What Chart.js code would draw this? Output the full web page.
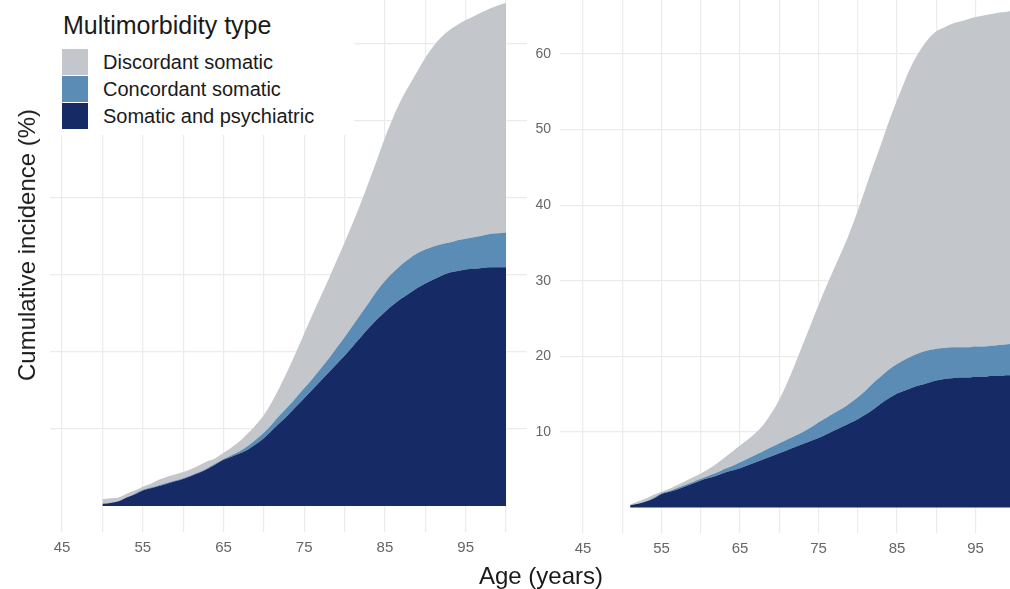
<!DOCTYPE html>
<html>
<head>
<meta charset="utf-8">
<script src="https://cdn.jsdelivr.net/npm/chart.js@4.4.1/dist/chart.umd.min.js"></script>
<style>
  html, body { margin: 0; padding: 0; background: #fff; overflow: hidden; }
  body { width: 1010px; height: 589px; position: relative; font-family: "Liberation Sans", Arial, sans-serif; }
  canvas { position: absolute; top: 0; }
  #left { left: 0; }
  #right { left: 500px; }
  #legend { position: absolute; left: 50px; top: 0; width: 304px; height: 135px; background: #fff; }
  #legend .ttl { position: absolute; left: 13px; top: 13px; font-size: 25px; line-height: 25px; color: #1a1a1a; white-space: nowrap; }
  #legend .sw { position: absolute; left: 12px; width: 26px; height: 26px; }
  #legend .lab { position: absolute; left: 53px; font-size: 20px; line-height: 26px; color: #1a1a1a; white-space: nowrap; }
  #ytitle { position: absolute; left: 27px; top: 245px; transform: translate(-50%, -50%) rotate(-90deg); font-size: 24px; color: #1a1a1a; white-space: nowrap; }
  #xtitle { position: absolute; left: 541px; top: 564px; transform: translateX(-50%); font-size: 24px; line-height: 24px; color: #1a1a1a; white-space: nowrap; }
</style>
</head>
<body>
<canvas id="left" width="527" height="589"></canvas>
<canvas id="right" width="540" height="589"></canvas>
<div id="legend"></div>
<div id="ytitle">Cumulative incidence (%)</div>
<div id="xtitle">Age (years)</div>
<script>
// series names and colours (legend order, top layer first)
var seriesNames = ["Discordant somatic", "Concordant somatic", "Somatic and psychiatric"];
var seriesColors = ["#c3c7cb", "#5b8cb5", "#162a66"];

var xTicks = [45, 50, 55, 60, 65, 70, 75, 80, 85, 90, 95, 100];
var xLabels = [45, 55, 65, 75, 85, 95];
var yTicks = [10, 20, 30, 40, 50, 60];

// left panel: stacked cumulative incidence (%) read at each age
var leftAges = [50,51,52,53,54,55,56,57,58,59,60,61,62,63,64,65,66,67,68,69,70,71,72,73,74,75,
  76,77,78,79,80,81,82,83,84,85,86,87,88,89,90,91,92,93,94,95,96,97,98,99,100];
var leftPsych = [0.3,0.4,0.6,1.1,1.5,2.0,2.3,2.6,2.9,3.2, 3.5,3.9,4.3,4.8,5.4,6.0,6.4,6.8,7.3,8.0,
  8.8,9.8,10.8,11.8,12.9,14.0,15.1,16.2,17.3,18.4, 19.5,20.7,21.9,23.1,24.2,25.2,26.1,26.9,27.6,28.3,
  28.9,29.4,29.9,30.3,30.5,30.7,30.8,30.9,31.0,31.0, 31.0];
var leftConcTop = [0.3,0.4,0.6,1.1,1.6,2.1,2.4,2.7,3.0,3.3, 3.6,4.0,4.4,4.9,5.5,6.1,6.6,7.1,7.8,8.6,
  9.5,10.6,11.8,12.9,14.1,15.3,16.5,17.8,19.1,20.5, 21.9,23.4,24.9,26.4,27.9,29.2,30.3,31.3,32.1,32.8,
  33.3,33.7,34.0,34.2,34.5,34.7,34.9,35.1,35.3,35.4, 35.5];
var leftTotal = [0.9,1.0,1.1,1.6,2.0,2.5,2.9,3.4,3.8,4.1, 4.4,4.8,5.3,5.8,6.2,6.9,7.6,8.4,9.4,10.5,
  11.8,13.5,15.5,17.7,20.0,22.4,24.8,27.1,29.4,31.8, 34.2,36.7,39.3,42.1,44.9,47.8,50.4,52.7,54.6,56.4,
  58.2,59.7,60.9,61.8,62.5,63.1,63.6,64.1,64.6,65.0, 65.3];

// right panel
var rightAges = [51,52,53,54,55,56,57,58,59,60,61,62,63,64,65,66,67,68,69,70,71,72,73,74,75,
  76,77,78,79,80,81,82,83,84,85,86,87,88,89,90,91,92,93,94,95,96,97,98,99,100];
var rightPsych = [0.3,0.5,0.8,1.2,1.8,2.1,2.4,2.8,3.2,3.6, 3.9,4.2,4.6,4.9,5.2,5.6,6.0,6.4,6.8,7.2,
  7.6,8.0,8.4,8.8,9.2,9.7,10.2,10.7,11.2,11.7, 12.3,13.0,13.8,14.5,15.1,15.5,15.9,16.2,16.5,16.8,
  17.0,17.1,17.2,17.2,17.3,17.3,17.4,17.4,17.5,17.5];
var rightConcTop = [0.3,0.5,0.8,1.3,1.9,2.2,2.6,3.0,3.4,3.8, 4.2,4.6,5.1,5.5,6.0,6.5,7.0,7.5,8.0,8.5,
  9.0,9.5,10.0,10.6,11.3,11.9,12.5,13.1,13.8,14.6, 15.5,16.5,17.4,18.3,19.0,19.6,20.1,20.5,20.8,21.0,
  21.1,21.2,21.2,21.2,21.3,21.3,21.4,21.5,21.6,21.7];
var rightTotal = [0.4,0.8,1.2,1.7,2.1,2.5,3.0,3.5,4.0,4.5, 5.1,5.8,6.6,7.4,8.2,9.0,9.9,11.0,12.5,14.3,
  16.5,19.0,21.6,24.2,26.8,29.3,31.7,34.0,36.5,39.3, 42.3,45.3,48.2,51.2,53.9,56.5,58.8,60.6,62.0,63.0,
  63.5,64.0,64.3,64.6,64.9,65.1,65.3,65.5,65.6,65.8];

function pts(ages, vals) {
  return ages.map(function (a, i) { return { x: a, y: vals[i] }; });
}

function layer(label, color, data, fill) {
  return {
    label: label, data: data, fill: fill,
    backgroundColor: color, borderColor: color, borderWidth: 0,
    pointRadius: 0, cubicInterpolationMode: 'monotone'
  };
}

function makePanel(id, ages, psych, concTop, total, cfg) {
  var ctx = document.getElementById(id).getContext('2d');
  return new Chart(ctx, {
    type: 'line',
    data: {
      datasets: [
        layer(seriesNames[2], seriesColors[2], pts(ages, psych), 'origin'),
        layer(seriesNames[1], seriesColors[1], pts(ages, concTop), '-1'),
        layer(seriesNames[0], seriesColors[0], pts(ages, total), '-1')
      ]
    },
    options: {
      responsive: false,
      animation: false,
      devicePixelRatio: 1,
      layout: { padding: 0 },
      plugins: { legend: { display: false }, tooltip: { enabled: false } },
      scales: {
        x: {
          type: 'linear', min: cfg.xmin, max: cfg.xmax,
          afterBuildTicks: function (ax) { ax.ticks = xTicks.map(function (v) { return { value: v }; }); },
          afterFit: function (s) { s.height = cfg.xh; s.paddingLeft = 0; s.paddingRight = 0; },
          ticks: {
            autoSkip: false, maxRotation: 0, padding: 7, color: '#666',
            font: { family: 'Liberation Sans', size: 15 },
            callback: function (v) { return xLabels.indexOf(v) >= 0 ? String(v) : ''; }
          },
          grid: { color: '#ebebeb', lineWidth: 1.2, drawTicks: false },
          border: { display: false }
        },
        y: {
          type: 'linear', min: cfg.ymin, max: cfg.ymax,
          afterBuildTicks: function (ax) { ax.ticks = yTicks.map(function (v) { return { value: v }; }); },
          afterFit: function (s) { s.width = cfg.yw; s.paddingTop = 0; s.paddingBottom = 0; },
          ticks: {
            display: cfg.yLabels, padding: 9, color: '#666',
            font: { family: 'Liberation Sans', size: 14 }
          },
          grid: { color: '#ebebeb', lineWidth: 1.2, drawTicks: false },
          border: { display: false }
        }
      }
    }
  });
}

makePanel('left', leftAges, leftPsych, leftConcTop, leftTotal,
  { xmin: 43.51, xmax: 102.6, xh: 57, ymin: -3.38, ymax: 65.7, yw: 50, yLabels: false });
makePanel('right', rightAges, rightPsych, rightConcTop, rightTotal,
  { xmin: 42.07, xmax: 103.2, xh: 56, ymin: -3.36, ymax: 67.14, yw: 60, yLabels: true });

// legend overlay
var lg = document.getElementById('legend');
var t = document.createElement('div');
t.className = 'ttl';
t.textContent = 'Multimorbidity type';
lg.appendChild(t);
seriesNames.forEach(function (name, i) {
  var top = 49 + i * 27;
  var sw = document.createElement('div');
  sw.className = 'sw';
  sw.style.top = top + 'px';
  sw.style.background = seriesColors[i];
  lg.appendChild(sw);
  var lab = document.createElement('div');
  lab.className = 'lab';
  lab.style.top = top + 'px';
  lab.textContent = name;
  lg.appendChild(lab);
});
</script>
</body>
</html>
